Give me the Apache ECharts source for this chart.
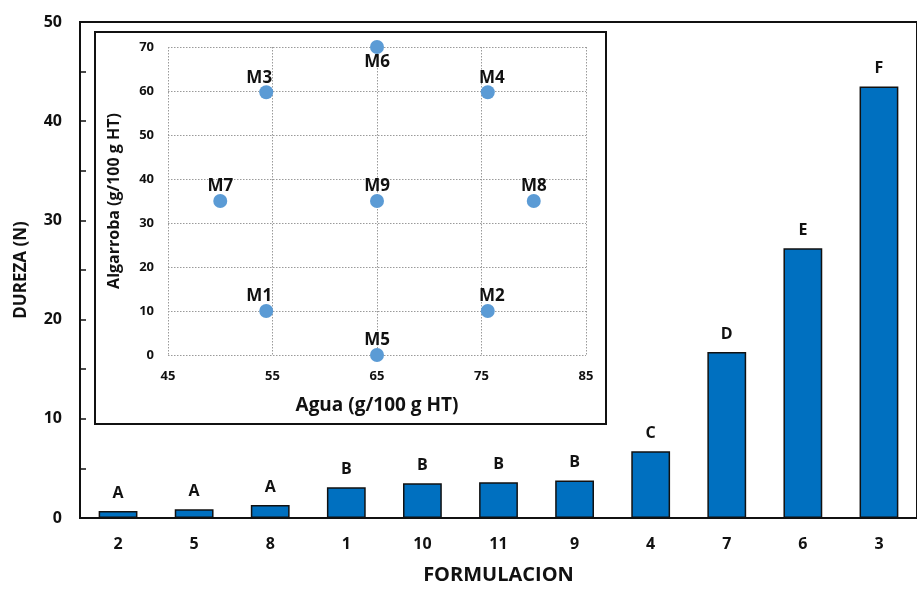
<!DOCTYPE html>
<html>
<head>
<meta charset="utf-8">
<script src="https://cdn.jsdelivr.net/npm/echarts@6/dist/echarts.min.js"></script>
<style>
  html, body { margin: 0; padding: 0; background: #fff; }
  #chart { width: 917px; height: 590px; }
</style>
</head>
<body>
<div id="chart"></div>
<script>
// Hardness of each formulation (bar chart)
const formulaciones = ['2', '5', '8', '1', '10', '11', '9', '4', '7', '6', '3'];
const dureza = [0.7, 0.87, 1.3, 3.1, 3.5, 3.6, 3.77, 6.73, 16.73, 27.2, 43.5];
const letras = ['A', 'A', 'A', 'B', 'B', 'B', 'B', 'C', 'D', 'E', 'F'];

// Mixture design (inset scatter)
const mezclas = ['M1', 'M2', 'M3', 'M4', 'M5', 'M6', 'M7', 'M8', 'M9'];
const agua = [54.4, 75.6, 54.4, 75.6, 65, 65, 50, 80, 65];
const algarroba = [10, 10, 59.7, 59.7, 0, 70, 35, 35, 35];

// label placement tweaks for the scatter points
const labelBelow = { M6: true };
const labelShiftX = { M1: -7, M3: -7, M2: 4, M4: 4 };

const FONT = '"Open Sans", "Noto Sans", sans-serif';
const INK = '#111';
const B = 700;

const chart = echarts.init(document.getElementById('chart'), null, { renderer: 'canvas' });

const scatterData = mezclas.map((m, i) => ({
  name: m,
  value: [agua[i], algarroba[i]],
  label: {
    position: labelBelow[m] ? 'bottom' : 'top',
    distance: labelBelow[m] ? 0 : -1,
    offset: [labelShiftX[m] || 0, 0]
  }
}));

const barData = dureza.map((v, i) => ({ value: v, letra: letras[i] }));

const dotted = { color: '#9a9a9a', width: 1, type: [1.5, 1.5] };

chart.setOption({
  animation: false,
  backgroundColor: '#fff',
  textStyle: { fontFamily: FONT, fontWeight: B },
  grid: [
    { left: 80, top: 22, right: -8, bottom: 68, show: true, borderColor: INK, borderWidth: 2 },
    { left: 168, top: 47, width: 418, height: 308 }
  ],
  graphic: [{
    type: 'rect',
    z: -1,
    shape: { x: 95, y: 32, width: 511, height: 392 },
    style: { fill: 'transparent', stroke: INK, lineWidth: 2 }
  }],
  xAxis: [
    {
      type: 'category', gridIndex: 0, data: formulaciones,
      name: 'FORMULACION', nameLocation: 'middle', nameGap: 47,
      nameTextStyle: { fontSize: 20, fontWeight: B, color: INK, fontFamily: FONT },
      axisLine: { lineStyle: { color: INK, width: 2 } },
      axisTick: { inside: true, length: 5, lineStyle: { color: INK, width: 1.5 } },
      axisLabel: { margin: 18, fontSize: 16, fontWeight: B, color: INK, fontFamily: FONT },
      splitLine: { show: false }
    },
    {
      type: 'value', gridIndex: 1, min: 45, max: 85, interval: 10,
      name: 'Agua (g/100 g HT)', nameLocation: 'middle', nameGap: 41,
      nameTextStyle: { fontSize: 19, fontWeight: B, color: INK, fontFamily: FONT },
      axisLine: { show: false },
      axisTick: { show: false },
      axisLabel: { margin: 15, fontSize: 13, fontWeight: B, color: INK, fontFamily: FONT },
      splitLine: { show: true, lineStyle: dotted }
    }
  ],
  yAxis: [
    {
      type: 'value', gridIndex: 0, min: 0, max: 50, interval: 5,
      name: 'DUREZA (N)', nameLocation: 'middle', nameGap: 50,
      nameTextStyle: { fontSize: 17, fontWeight: B, color: INK, fontFamily: FONT },
      axisLine: { show: true, lineStyle: { color: INK, width: 2 } },
      axisTick: { show: true, inside: true, length: 6, lineStyle: { color: INK, width: 1.5 } },
      axisLabel: {
        margin: 18, fontSize: 16, fontWeight: B, color: INK, fontFamily: FONT,
        formatter: v => (v % 10 === 0 ? String(v) : '')
      },
      splitLine: { show: false }
    },
    {
      type: 'value', gridIndex: 1, min: 0, max: 70, interval: 10,
      name: 'Algarroba (g/100 g HT)', nameLocation: 'middle', nameGap: 46,
      nameTextStyle: { fontSize: 16, fontWeight: B, color: INK, fontFamily: FONT },
      axisLine: { show: false },
      axisTick: { show: false },
      axisLabel: { margin: 14, fontSize: 13, fontWeight: B, color: INK, fontFamily: FONT },
      splitLine: { show: true, lineStyle: dotted }
    }
  ],
  series: [
    {
      type: 'bar', xAxisIndex: 0, yAxisIndex: 0,
      data: barData,
      barWidth: '51%',
      itemStyle: { color: '#0070C0', borderColor: INK, borderWidth: 1.5 },
      label: {
        show: true, position: 'top', distance: 10,
        fontSize: 16, fontWeight: B, color: INK, fontFamily: FONT,
        formatter: p => p.data.letra
      }
    },
    {
      type: 'scatter', xAxisIndex: 1, yAxisIndex: 1,
      data: scatterData,
      symbol: 'circle', symbolSize: 14,
      itemStyle: { color: '#5B9BD5', opacity: 1 },
      label: {
        show: true,
        fontSize: 17, fontWeight: B, color: INK, opacity: 1, fontFamily: FONT,
        formatter: p => p.name
      },
      z: 5
    }
  ]
});
</script>
</body>
</html>
